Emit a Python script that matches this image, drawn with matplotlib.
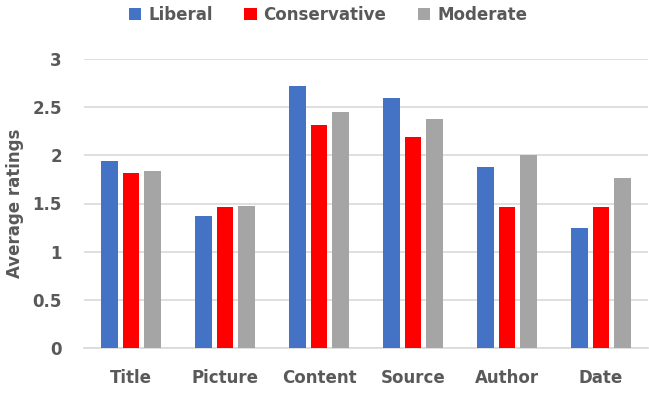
import matplotlib
matplotlib.use("Agg")
import matplotlib.pyplot as plt
import numpy as np

categories = ["Title", "Picture", "Content", "Source", "Author", "Date"]
series_names = ["Liberal", "Conservative", "Moderate"]
liberal = [1.945, 1.37, 2.72, 2.60, 1.88, 1.25]
conservative = [1.82, 1.46, 2.32, 2.19, 1.46, 1.46]
moderate = [1.84, 1.47, 2.45, 2.38, 2.00, 1.76]
yticks = [0, 0.5, 1, 1.5, 2, 2.5, 3]
ytick_labels = ["0", "0.5", "1", "1.5", "2", "2.5", "3"]
colors = ["#4472C4", "#FF0000", "#A5A5A5"]

txt = "#595959"
plt.rcParams['font.family'] = ['DejaVu Sans']

fig = plt.figure(figsize=(6.49, 3.94), dpi=100)
ax = fig.add_axes([84/649, 46/394, 564/649, 289/394])

x = np.arange(len(categories))
step = 0.229
width = 0.18
handles = []
for i, (vals, name, c) in enumerate(zip([liberal, conservative, moderate], series_names, colors)):
    h = ax.bar(x + (i - 1) * step, vals, width, color=c, label=name, zorder=3)
    handles.append(h)

ax.set_xlim(-0.5, len(categories) - 0.5)
ax.set_ylim(0, 3)
ax.set_yticks(yticks)
ax.set_yticklabels(ytick_labels)
ax.set_xticks(x)
ax.set_xticklabels(categories)
ax.yaxis.grid(True, color="#D9D9D9", linewidth=1.2, zorder=0)
ax.set_axisbelow(True)
for s in ["top", "right", "left"]:
    ax.spines[s].set_visible(False)
ax.spines["bottom"].set_color("#D9D9D9")
ax.spines["bottom"].set_linewidth(1.2)
ax.tick_params(axis="both", length=0, labelsize=12, labelcolor=txt)
ax.tick_params(axis="y", pad=16)
ax.tick_params(axis="x", pad=15)
for lab in ax.get_xticklabels() + ax.get_yticklabels():
    lab.set_fontweight("bold")

fig.text(15/649, 1 - 203/394, "Average ratings", rotation=90, ha="center", va="center",
         fontsize=12, fontweight="bold", color=txt)

leg = fig.legend(handles=handles, labels=series_names, loc="center", bbox_to_anchor=(328/649, 1 - 15/394),
                 ncol=3, frameon=False, handlelength=0.75, handleheight=0.75,
                 handletextpad=0.4, columnspacing=1.9, prop={"weight": "bold", "size": 12})
for t in leg.get_texts():
    t.set_color(txt)

fig.savefig("out.png", dpi=100)
